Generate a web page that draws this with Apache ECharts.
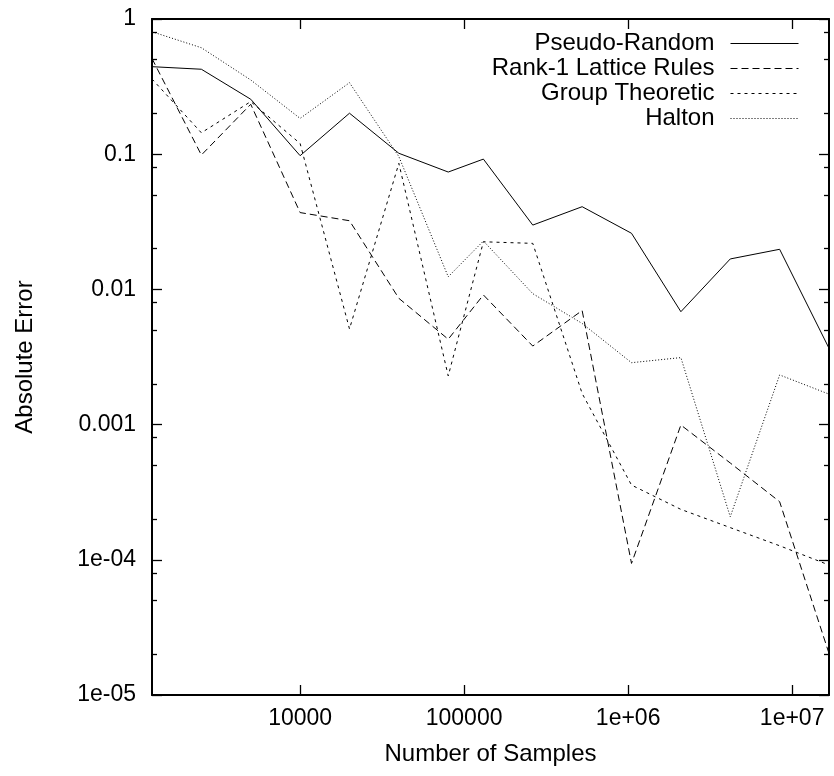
<!DOCTYPE html>
<html>
<head>
<meta charset="utf-8">
<script src="https://cdn.jsdelivr.net/npm/echarts@6/dist/echarts.min.js"></script>
<style>
html,body{margin:0;padding:0;background:#fff;}
#chart{width:834px;height:776px;}
</style>
</head>
<body>
<div id="chart"></div>
<script>
// ---- data ----
var samples = [1250, 2500, 5000, 10000, 20000, 40000, 80000, 131072, 262144, 524288, 1048576, 2097152, 4194304, 8388608, 16777216];
var pseudoRandom = [0.444, 0.425, 0.255, 0.0975, 0.201, 0.1016, 0.0738, 0.092, 0.0299, 0.0409, 0.026, 0.00684, 0.0168, 0.0198, 0.00367];
var rank1Lattice = [0.51, 0.0986, 0.234, 0.037, 0.0322, 0.00859, 0.00428, 0.0091, 0.00381, 0.00698, 0.000094, 0.000993, 0.00052, 0.000269, 0.0000203];
var groupTheoretic = [0.36, 0.144, 0.245, 0.12, 0.0051, 0.0856, 0.00229, 0.0225, 0.0219, 0.0017, 0.000357, 0.000236, 0.000173, 0.000127, 0.0000915];
var halton = [0.805, 0.613, 0.354, 0.184, 0.338, 0.096, 0.0124, 0.0228, 0.0093, 0.0056, 0.00287, 0.00313, 0.000208, 0.00233, 0.00168];
var seriesNames = ['Pseudo-Random', 'Rank-1 Lattice Rules', 'Group Theoretic', 'Halton'];

var xTickValues = [10000, 100000, 1000000, 10000000];
var xTickLabels = ['10000', '100000', '1e+06', '1e+07'];
var yTickValues = [0.00001, 0.0001, 0.001, 0.01, 0.1, 1];
var yTickLabels = ['1e-05', '1e-04', '0.001', '0.01', '0.1', '1'];
var yMinorTickValues = [
  0.00002, 0.00005, 0.00008,
  0.0002, 0.0005, 0.0008,
  0.002, 0.005, 0.008,
  0.02, 0.05, 0.08,
  0.2, 0.5, 0.8
];

var FONT = '"Liberation Sans", Arial, Helvetica, sans-serif';

function pairs(ys) { return samples.map(function (x, i) { return [x, ys[i]]; }); }
function labelFor(vals, labels) {
  return function (v) {
    for (var i = 0; i < vals.length; i++) {
      if (Math.abs(Math.log10(v) - Math.log10(vals[i])) < 1e-6) return labels[i];
    }
    return '';
  };
}

var axisLine = { show: true, lineStyle: { color: '#000', width: 2 } };
var majorTick = { show: true, inside: true, length: 10, lineStyle: { color: '#000', width: 1.3 } };

var xMin = samples[0], xMax = samples[samples.length - 1];
var yMin = yTickValues[0], yMax = yTickValues[yTickValues.length - 1];

var chart = echarts.init(document.getElementById('chart'), null, { renderer: 'canvas' });
chart.setOption({
  animation: false,
  backgroundColor: '#fff',
  textStyle: { fontFamily: FONT },
  grid: { left: 152, right: 5, top: 19, bottom: 81, containLabel: false },
  legend: {
    show: true,
    orient: 'vertical',
    align: 'right',
    right: 35,
    top: 31.5,
    padding: 0,
    itemGap: 1,
    itemWidth: 68,
    itemHeight: 14,
    selectedMode: false,
    itemStyle: { opacity: 0 },
    lineStyle: { width: 1 },
    textStyle: { fontFamily: FONT, fontSize: 24, color: '#000', lineHeight: 23, padding: [0, 11, 0, 0] },
    data: seriesNames
  },
  xAxis: [
    {
      type: 'log', position: 'bottom', min: xMin, max: xMax,
      name: 'Number of Samples', nameLocation: 'middle', nameGap: 47,
      nameTextStyle: { fontFamily: FONT, fontSize: 24, color: '#000' },
      axisLine: axisLine,
      axisTick: Object.assign({ customValues: xTickValues }, majorTick),
      axisLabel: { customValues: xTickValues, formatter: labelFor(xTickValues, xTickLabels), fontFamily: FONT, fontSize: 23, color: '#000', margin: 12 },
      splitLine: { show: false }, minorTick: { show: false }
    },
    {
      type: 'log', position: 'top', min: xMin, max: xMax,
      axisLine: axisLine,
      axisTick: Object.assign({ customValues: xTickValues }, majorTick),
      axisLabel: { show: false },
      splitLine: { show: false }
    }
  ],
  yAxis: [
    {
      type: 'log', position: 'left', min: yMin, max: yMax,
      name: 'Absolute Error', nameLocation: 'middle', nameGap: 115,
      nameTextStyle: { fontFamily: FONT, fontSize: 24, color: '#000' },
      axisLine: axisLine,
      axisTick: Object.assign({ customValues: yTickValues }, majorTick),
      axisLabel: { customValues: yTickValues, formatter: labelFor(yTickValues, yTickLabels), fontFamily: FONT, fontSize: 23, color: '#000', margin: 16 },
      splitLine: { show: false }
    },
    {
      type: 'log', position: 'right', min: yMin, max: yMax,
      axisLine: axisLine,
      axisTick: Object.assign({ customValues: yTickValues }, majorTick),
      axisLabel: { show: false },
      splitLine: { show: false }
    },
    {
      type: 'log', position: 'left', min: yMin, max: yMax,
      axisLine: { show: false },
      axisTick: { show: true, inside: true, length: 5, customValues: yMinorTickValues, lineStyle: { color: '#000', width: 1.3 } },
      axisLabel: { show: false },
      splitLine: { show: false }
    },
    {
      type: 'log', position: 'right', min: yMin, max: yMax,
      axisLine: { show: false },
      axisTick: { show: true, inside: true, length: 5, customValues: yMinorTickValues, lineStyle: { color: '#000', width: 1.3 } },
      axisLabel: { show: false },
      splitLine: { show: false }
    }
  ],
  series: [
    { name: seriesNames[0], type: 'line', xAxisIndex: 0, yAxisIndex: 0, data: pairs(pseudoRandom), symbol: 'none', lineStyle: { color: '#000', width: 1, type: 'solid' }, itemStyle: { color: '#000' } },
    { name: seriesNames[1], type: 'line', xAxisIndex: 0, yAxisIndex: 0, data: pairs(rank1Lattice), symbol: 'none', lineStyle: { color: '#000', width: 1, type: [7, 4] }, itemStyle: { color: '#000' } },
    { name: seriesNames[2], type: 'line', xAxisIndex: 0, yAxisIndex: 0, data: pairs(groupTheoretic), symbol: 'none', lineStyle: { color: '#000', width: 1, type: [3, 4] }, itemStyle: { color: '#000' } },
    { name: seriesNames[3], type: 'line', xAxisIndex: 0, yAxisIndex: 0, data: pairs(halton), symbol: 'none', lineStyle: { color: '#000', width: 1, type: [1, 2] }, itemStyle: { color: '#000' } }
  ]
});
</script>
</body>
</html>
